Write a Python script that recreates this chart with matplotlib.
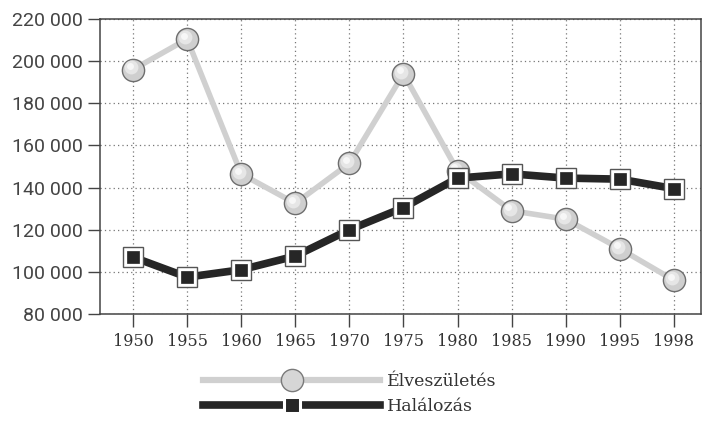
import matplotlib
matplotlib.use("Agg")
import matplotlib.pyplot as plt
from matplotlib.lines import Line2D
from matplotlib.ticker import FuncFormatter

years = ["1950", "1955", "1960", "1965", "1970", "1975", "1980", "1985", "1990", "1995", "1998"]
births = [196000, 210500, 146500, 132500, 151500, 194000, 148000, 129000, 125000, 111000, 96000]
deaths = [107000, 97500, 101000, 107500, 120000, 130500, 144500, 146500, 144500, 144000, 139500]
labels = ["Élveszületés", "Halálozás"]
yticks = [80000, 100000, 120000, 140000, 160000, 180000, 200000, 220000]

fig = plt.figure(figsize=(7.05, 4.22), dpi=100)
ax = fig.add_axes([100/705, 1-314/422, 601/705, 295/422])

x = list(range(len(years)))
light = "#d0d0d0"
dark = "#262626"

ax.plot(x, births, color=light, lw=4, zorder=3)
ax.plot(x, births, ls="none", marker="o", ms=16, mfc="#cfcfcf", mec="#6e6e6e", mew=1.0, zorder=4)
ax.plot([xi - 0.04 for xi in x], [b + 1000 for b in births], ls="none", marker="o", ms=10,
        mfc="#e6e6e6", mec="none", zorder=5)
ax.plot([xi - 0.06 for xi in x], [b + 1600 for b in births], ls="none", marker="o", ms=5,
        mfc="#f7f7f7", mec="none", zorder=5)

ax.plot(x, deaths, color=dark, lw=5.5, zorder=6)
ax.plot(x, deaths, ls="none", marker="s", ms=14, mfc="white", mec="#555555", mew=1.0, zorder=7)
ax.plot(x, deaths, ls="none", marker="s", ms=9, mfc=dark, mec=dark, mew=0.5, zorder=8)

ax.set_xlim(-0.61, 10.5)
ax.set_ylim(80000, 220000)
ax.set_xticks(x)
ax.set_xticklabels(years, family="DejaVu Serif", fontsize=11.5, color="#333333")
ax.set_yticks(yticks)
ax.yaxis.set_major_formatter(FuncFormatter(lambda v, p: f"{int(v):,}".replace(",", " ")))
for t in ax.get_yticklabels():
    t.set_family("Roboto")
    t.set_fontsize(14)
    t.set_color("#444444")

ax.grid(True, ls=(0, (1, 2.5)), color="#777777", lw=0.9)
ax.set_axisbelow(True)
ax.tick_params(axis="both", direction="out", length=9, width=1, color="#444444")
ax.tick_params(axis="y", pad=3)
ax.tick_params(axis="x", pad=5)
for s in ax.spines.values():
    s.set_color("#444444")
    s.set_linewidth(1.1)

h1 = Line2D([], [], color=light, lw=4.5, marker="o", ms=16, mfc="#d6d6d6", mec="#7a7a7a", mew=1.0)
h2 = Line2D([], [], color=dark, lw=5.5, marker="s", ms=12, mfc=dark, mec="white", mew=2.2)
leg = fig.legend([h1, h2], labels, loc="center", bbox_to_anchor=(350/705, 1-394/422),
                 frameon=False, handlelength=10.2, handletextpad=0.4, labelspacing=0.45,
                 prop={"family": "DejaVu Serif", "size": 12.5})
for t in leg.get_texts():
    t.set_color("#333333")

fig.savefig("out.png", dpi=100)
